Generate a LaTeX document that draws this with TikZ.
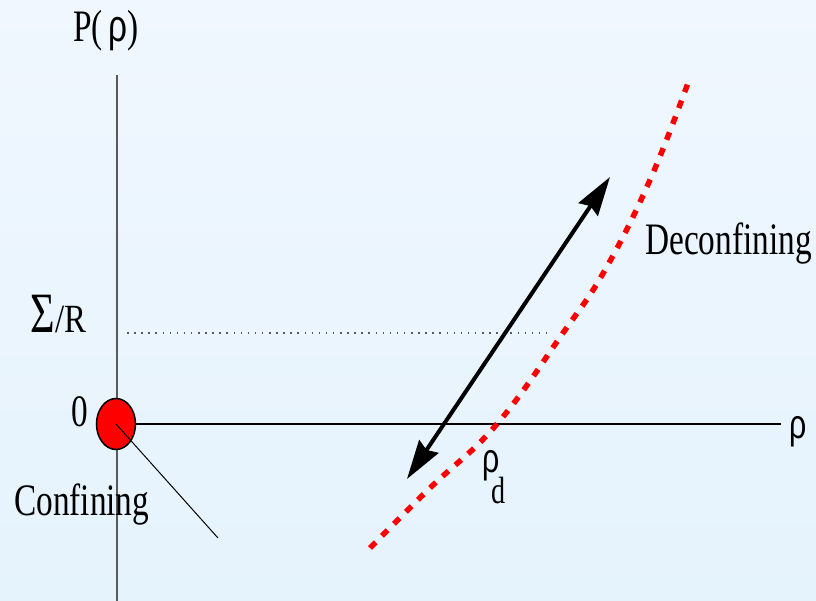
\documentclass[tikz,border=0pt]{standalone}
\usepackage{graphicx}
\usepackage{fontspec}
\setmainfont{Liberation Serif}
\newfontfamily\grk{Liberation Sans}
\usetikzlibrary{arrows.meta,shapes.geometric}
\definecolor{bgtop}{RGB}{240,247,254}
\definecolor{bgbot}{RGB}{229,243,253}
\definecolor{axgray}{RGB}{90,90,90}
\newcommand\sx[1]{\scalebox{0.74}[1]{#1}}
\tikzset{
  lbl/.style={inner sep=0pt, anchor=base west, font=\fontsize{45}{50}\selectfont},
  axis/.style={line width=1.3pt},
  guide/.style={line width=1.2pt, axgray, dash pattern=on 1.5pt off 5.6pt},
  phase/.style={red, line width=5.5pt, dash pattern=on 8pt off 9pt},
  sweep/.style={line width=4pt, {Stealth[length=39pt,width=23pt,inset=4pt]}-{Stealth[length=39pt,width=23pt,inset=4pt]}}
}
\begin{document}
\begin{tikzpicture}[x=1pt,y=-1pt]
\useasboundingbox (0,0) rectangle (816,601);
\shade[top color=bgtop, bottom color=bgbot] (0,0) rectangle (816,601);
% axes
\coordinate (ytop) at (117,75);
\coordinate (ybot) at (117,601);
\coordinate (xend) at (781,424);
\draw[axis, axgray] (ytop) -- (ybot);
\node[draw=black, fill=red, line width=1.5pt, ellipse, minimum width=39pt, minimum height=51pt, inner sep=0pt] (orig) at (116,424) {};
\draw[axis] (orig.east) -- (xend);
% pointer to Confining
\coordinate (cend) at (218,538);
\draw[line width=1pt] (orig.center) -- (cend);
% dotted level line
\coordinate (g1) at (127,333);
\coordinate (g2) at (552,333);
\draw[guide] (g1) -- (g2);
% deconfining boundary
\draw[phase] plot[smooth, tension=0.7] coordinates {(370,548) (430,488) (497,424) (563,333) (605,270) (650,180) (688,83)};
% double arrow
\coordinate (alo) at (407,479);
\coordinate (ahi) at (610,177);
\draw[sweep] (alo) -- (ahi);
% labels
\node[lbl] (P) at (73,42) {\sx{P(\,{\grk ρ})}};
\node[lbl, font=\fontsize{57}{60}\selectfont] (sig) at (30,333) {\sx{Σ}};
\node[lbl, font=\fontsize{40}{42}\selectfont] (R) at (sig.base east) {\scalebox{0.82}[1]{/R}};
\node[lbl] (zero) at (71,426) {\sx{0}};
\node[lbl] (conf) at (14,515) {\sx{Confining}};
\node[lbl] (deconf) at (645,255) {\sx{Deconfining}};
\node[lbl, font=\fontsize{41}{44}\selectfont\grk] (rho) at (789,438) {\sx{ρ}};
\node[lbl, font=\fontsize{41}{44}\selectfont\grk] (rhod) at (482,472) {\sx{ρ}};
\node[lbl, font=\fontsize{38}{40}\selectfont] (dsub) at (491,503) {\sx{d}};
\end{tikzpicture}
\end{document}
